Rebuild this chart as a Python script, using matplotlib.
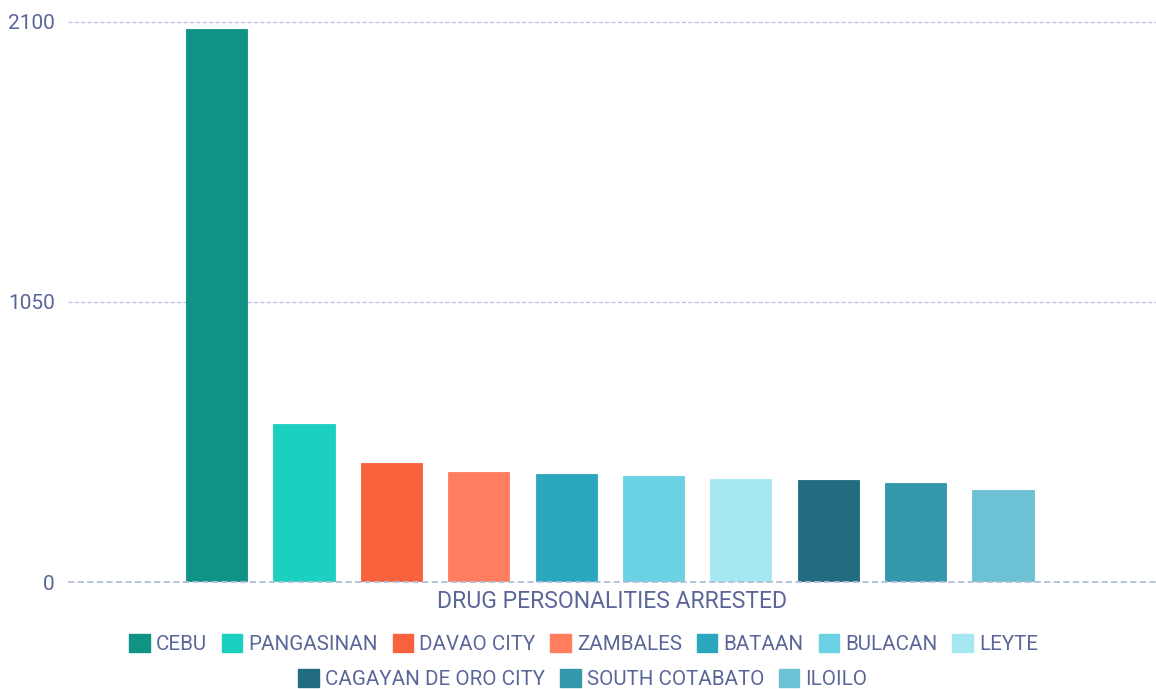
import matplotlib
matplotlib.use("Agg")
import matplotlib.pyplot as plt
from matplotlib.patches import Patch

# ---- data ----
regions = ["CEBU", "PANGASINAN", "DAVAO CITY", "ZAMBALES", "BATAAN",
           "BULACAN", "LEYTE", "CAGAYAN DE ORO CITY", "SOUTH COTABATO", "ILOILO"]
arrested = [2072, 592, 447, 413, 404, 398, 386, 381, 372, 345]
colors = ["#0e9384", "#1cd0c0", "#f8623c", "#ff7e5f", "#2ba8bd",
          "#6ad2e2", "#a6e8f2", "#226c80", "#3497ab", "#6cc1d4"]
y_ticks = [0, 1050, 2100]
category = "DRUG PERSONALITIES ARRESTED"

plt.rcParams["font.family"] = ["Roboto", "DejaVu Sans"]
text_color = "#5a6698"

fig = plt.figure(figsize=(11.56, 6.89), dpi=100)
ax = fig.add_axes([68 / 1156, 107 / 689, 1088 / 1156, 560.3 / 689])

x = list(range(len(regions)))
bars = ax.bar(x, arrested, width=0.70, color=colors, zorder=2, linewidth=0.6)
for b, c in zip(bars, colors):
    b.set_edgecolor(c)

ax.set_xlim(-1.70, 10.75)
ax.set_ylim(0, 2100)
ax.set_yticks(y_ticks)
ax.set_yticklabels([str(v) for v in y_ticks])
ax.set_xticks([])
ax.tick_params(axis="y", length=0, pad=9.4, labelsize=15, labelcolor=text_color)

for s in ax.spines.values():
    s.set_visible(False)

# gridlines (upper ones behind bars)
for v in y_ticks[1:]:
    ax.axhline(v, color="#c2c2e6", lw=1.0, linestyle=(0, (3, 1.6)),
               zorder=1, clip_on=False)
# baseline over bars
ax.axhline(0, color="#b2bedc", lw=1.3, linestyle=(0, (3.5, 1.8)),
           zorder=3, clip_on=False)

ax.set_xlabel(category, fontsize=16.6, color=text_color, labelpad=6)

handles = [Patch(facecolor=c, edgecolor=c) for c in colors]
leg_kw = dict(frameon=False, fontsize=14.8, handlelength=1.0, handleheight=1.0,
              handletextpad=0.3, columnspacing=0.72, labelcolor=text_color,
              borderpad=0, borderaxespad=0)
leg1 = fig.legend(handles[:7], regions[:7], ncol=7, loc="center",
                  bbox_to_anchor=(583.5 / 1156, 1 - 644 / 689), **leg_kw)
leg2 = fig.legend(handles[7:], regions[7:], ncol=3, loc="center",
                  bbox_to_anchor=(583 / 1156, 1 - 679 / 689), **leg_kw)

fig.savefig("out.png", dpi=100)
